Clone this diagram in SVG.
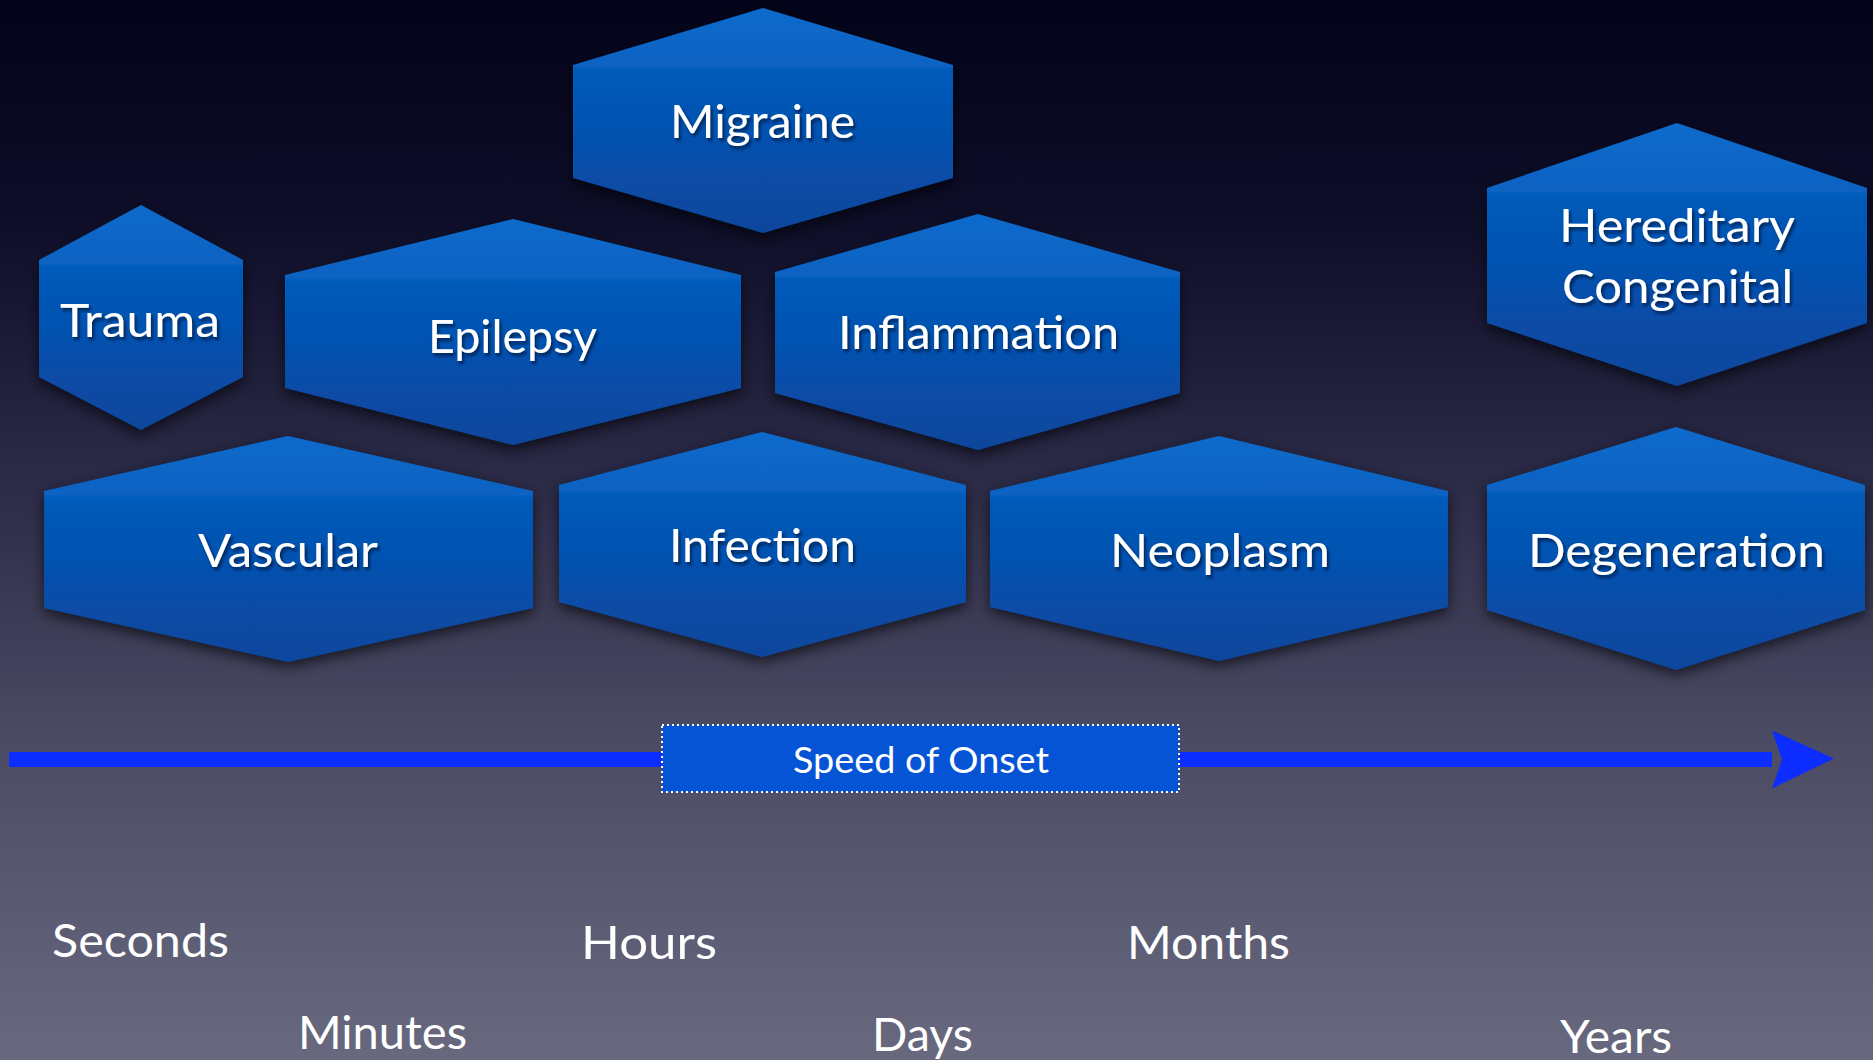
<svg xmlns="http://www.w3.org/2000/svg" width="1873" height="1060" viewBox="0 0 1873 1060">
  <defs>
    <linearGradient id="bg" x1="0" y1="0" x2="0" y2="1">
      <stop offset="0" stop-color="#03031a"/>
      <stop offset="0.2" stop-color="#0d0d28"/>
      <stop offset="0.45" stop-color="#2b2a47"/>
      <stop offset="0.7" stop-color="#4b4b64"/>
      <stop offset="1" stop-color="#68687f"/>
    </linearGradient>
    <linearGradient id="hex" x1="0" y1="0" x2="0" y2="1">
      <stop offset="0" stop-color="#0a6acb"/>
      <stop offset="0.26" stop-color="#0762c2"/>
      <stop offset="0.28" stop-color="#055ab9"/>
      <stop offset="0.55" stop-color="#0652b0"/>
      <stop offset="1" stop-color="#08469c"/>
    </linearGradient>
    <filter id="shadow" x="-10%" y="-10%" width="120%" height="130%">
      <feDropShadow dx="0" dy="5" stdDeviation="7" flood-color="#000000" flood-opacity="0.65"/>
    </filter>
    <filter id="tshadow" x="-10%" y="-30%" width="120%" height="160%">
      <feDropShadow dx="2" dy="3" stdDeviation="1.5" flood-color="#001030" flood-opacity="0.7"/>
    </filter>
    <marker id="arrowhead" viewBox="0 0 62 58" refX="0" refY="29" markerWidth="62" markerHeight="58" markerUnits="userSpaceOnUse" orient="auto">
      <path d="M0,0 L62,28 L0,58 L10,29 Z" fill="#0d2cff"/>
    </marker>
  </defs>
  <style>
    .hex { fill: url(#hex); filter: url(#shadow); }
    .lbl { font-family: Lato, "Open Sans", "Liberation Sans", sans-serif; font-size: 47px; fill: #ffffff; text-anchor: middle; filter: url(#tshadow); }
    .axis { font-family: Lato, "Open Sans", "Liberation Sans", sans-serif; font-size: 47px; fill: #ffffff; }
    .onset { font-family: Lato, "Open Sans", "Liberation Sans", sans-serif; font-size: 36px; fill: #ffffff; text-anchor: middle; }
  </style>

  <rect x="0" y="0" width="1873" height="1060" fill="url(#bg)"/>

  <g id="connectors">
    <line x1="9" y1="759.5" x2="1772" y2="759.5" stroke="#0d2cff" stroke-width="15" marker-end="url(#arrowhead)"/>
  </g>

  <g id="node-migraine">
    <polygon class="hex" points="763,8 953,65 953,178 763,233 573,178 573,65"/>
    <text class="lbl" x="762.5" y="138" textLength="185" lengthAdjust="spacingAndGlyphs">Migraine</text>
  </g>
  <g id="node-trauma">
    <polygon class="hex" points="141,205 243,260 243,377 141,430 39,377 39,260"/>
    <text class="lbl" x="140" y="337" textLength="160" lengthAdjust="spacingAndGlyphs">Trauma</text>
  </g>
  <g id="node-epilepsy">
    <polygon class="hex" points="513,219 741,275 741,388 513,445 285,388 285,275"/>
    <text class="lbl" x="512.5" y="353" textLength="169" lengthAdjust="spacingAndGlyphs">Epilepsy</text>
  </g>
  <g id="node-inflammation">
    <polygon class="hex" points="978,214 1180,272 1180,393 978,450 775,393 775,272"/>
    <text class="lbl" x="978.5" y="349" textLength="281" lengthAdjust="spacingAndGlyphs">Inflammation</text>
  </g>
  <g id="node-hereditary">
    <polygon class="hex" points="1677,123 1867,188 1867,323 1677,386 1487,323 1487,188"/>
    <text class="lbl" x="1677" y="242" textLength="236" lengthAdjust="spacingAndGlyphs">Hereditary</text>
    <text class="lbl" x="1677.5" y="303" textLength="231" lengthAdjust="spacingAndGlyphs">Congenital</text>
  </g>
  <g id="node-vascular">
    <polygon class="hex" points="288,436 533,491 533,608 288,662 44,608 44,491"/>
    <text class="lbl" x="288" y="567" textLength="180" lengthAdjust="spacingAndGlyphs">Vascular</text>
  </g>
  <g id="node-infection">
    <polygon class="hex" points="762,432 966,485 966,602 762,657 559,602 559,485"/>
    <text class="lbl" x="762.5" y="562" textLength="187" lengthAdjust="spacingAndGlyphs">Infection</text>
  </g>
  <g id="node-neoplasm">
    <polygon class="hex" points="1219,436 1448,491 1448,607 1219,661 990,607 990,491"/>
    <text class="lbl" x="1220" y="567" textLength="220" lengthAdjust="spacingAndGlyphs">Neoplasm</text>
  </g>
  <g id="node-degeneration">
    <polygon class="hex" points="1676,427 1865,485 1865,610 1676,670 1487,610 1487,485"/>
    <text class="lbl" x="1676.5" y="567" textLength="297" lengthAdjust="spacingAndGlyphs">Degeneration</text>
  </g>

  <g id="node-speed-of-onset">
    <rect x="662" y="725" width="517" height="67" fill="#0654d6" stroke="#ffffff" stroke-width="2" stroke-dasharray="2,3"/>
    <text class="onset" x="921" y="773" textLength="256" lengthAdjust="spacingAndGlyphs">Speed of Onset</text>
  </g>

  <g id="axis-labels">
    <text class="axis" x="52" y="957" textLength="177" lengthAdjust="spacingAndGlyphs">Seconds</text>
    <text class="axis" x="298" y="1049" textLength="169" lengthAdjust="spacingAndGlyphs">Minutes</text>
    <text class="axis" x="581" y="959" textLength="136" lengthAdjust="spacingAndGlyphs">Hours</text>
    <text class="axis" x="872" y="1051" textLength="101" lengthAdjust="spacingAndGlyphs">Days</text>
    <text class="axis" x="1127" y="959" textLength="163" lengthAdjust="spacingAndGlyphs">Months</text>
    <text class="axis" x="1560" y="1053" textLength="112" lengthAdjust="spacingAndGlyphs">Years</text>
  </g>
</svg>
